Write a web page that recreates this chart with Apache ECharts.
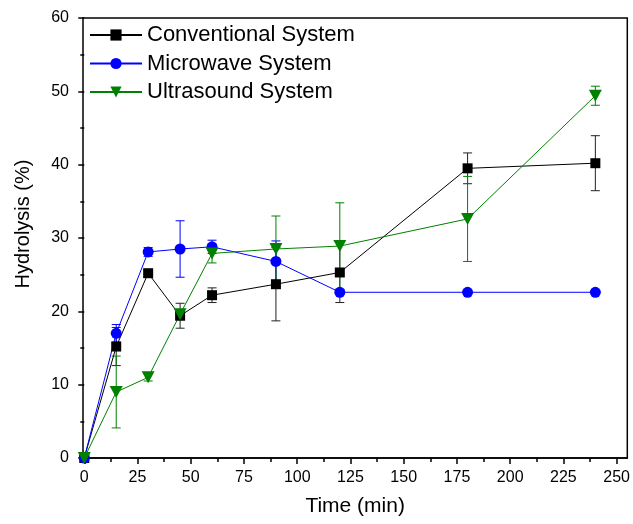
<!DOCTYPE html>
<html>
<head>
<meta charset="utf-8">
<script src="https://cdn.jsdelivr.net/npm/echarts@6/dist/echarts.min.js"></script>
<style>
  html, body { margin: 0; padding: 0; background: #fff; }
  #chart { width: 633px; height: 524px; }
</style>
</head>
<body>
<div id="chart"></div>
<script>
  // time points (min)
  var times = [0, 15, 30, 45, 60, 90, 120, 180, 240];
  // hydrolysis (%) and error bars
  var conventional = [0, 15.2, 25.2, 19.4, 22.2, 23.7, 25.3, 39.5, 40.2];
  var conventionalErr = [0, 2.6, 0.5, 1.7, 1.0, 5.0, 4.1, 2.1, 3.75];
  var microwave = [0, 17.0, 28.1, 28.5, 28.8, 26.8, 22.6, 22.6, 22.6];
  var microwaveErr = [0, 1.2, 0.6, 3.85, 0.9, 2.8, 0.3, 0.2, 0.2];
  var ultrasound = [0, 9.0, 11.0, 19.6, 27.9, 28.5, 28.9, 32.6, 49.4];
  var ultrasoundErr = [0, 4.9, 0.5, 0.3, 1.3, 4.5, 5.9, 5.8, 1.3];
  var xTicks = [0, 25, 50, 75, 100, 125, 150, 175, 200, 225, 250];
  var xMinorTicks = [12.5, 37.5, 62.5, 87.5, 112.5, 137.5, 162.5, 187.5, 212.5, 237.5];

  var font = 'Liberation Sans, Arial, sans-serif';

  function pairs(ys) {
    return times.map(function (t, i) { return [t, ys[i]]; });
  }

  function errData(ys, es) {
    return times.map(function (t, i) { return [t, ys[i] - es[i], ys[i] + es[i]]; });
  }

  function errorSeries(name, ys, es, color) {
    return {
      name: name,
      type: 'custom',
      z: 1,
      silent: true,
      data: errData(ys, es),
      renderItem: function (params, api) {
        var lo = api.coord([api.value(0), api.value(1)]);
        var hi = api.coord([api.value(0), api.value(2)]);
        var w = 4.5;
        var style = { stroke: color, lineWidth: 1 };
        return {
          type: 'group',
          children: [
            { type: 'line', shape: { x1: lo[0], y1: lo[1], x2: hi[0], y2: hi[1] }, style: style },
            { type: 'line', shape: { x1: lo[0] - w, y1: lo[1], x2: lo[0] + w, y2: lo[1] }, style: style },
            { type: 'line', shape: { x1: hi[0] - w, y1: hi[1], x2: hi[0] + w, y2: hi[1] }, style: style }
          ]
        };
      }
    };
  }

  var chart = echarts.init(document.getElementById('chart'));
  chart.setOption({
    animation: false,
    backgroundColor: '#fff',
    grid: {
      left: 83, right: 5, top: 18, bottom: 66,
      show: true, borderColor: '#000', borderWidth: 1.5, backgroundColor: 'transparent'
    },
    legend: {
      data: ['Conventional System', 'Microwave System', 'Ultrasound System'],
      orient: 'vertical',
      left: 84,
      top: 19,
      itemWidth: 52,
      itemHeight: 14,
      itemGap: 6.5,
      textStyle: { fontFamily: font, fontSize: 22, color: '#000', lineHeight: 22 }
    },
    xAxis: [
      {
        type: 'value',
        min: -0.6,
        max: 255,
        position: 'bottom',
        name: 'Time (min)',
        nameLocation: 'middle',
        nameGap: 38,
        nameTextStyle: { fontFamily: font, fontSize: 21, color: '#000' },
        axisLine: { show: true, lineStyle: { color: '#000', width: 1.5 } },
        axisTick: { show: true, customValues: xTicks, length: 6, lineStyle: { color: '#000', width: 1.5 } },
        axisLabel: { customValues: xTicks, fontFamily: font, fontSize: 16, color: '#000', margin: 12 },
        splitLine: { show: false }
      },
      {
        type: 'value',
        min: -0.6,
        max: 255,
        position: 'bottom',
        axisLine: { show: false },
        axisTick: { show: true, customValues: xMinorTicks, length: 4, lineStyle: { color: '#000', width: 1.5 } },
        axisLabel: { show: false },
        splitLine: { show: false }
      }
    ],
    yAxis: {
      type: 'value',
      min: 0,
      max: 60,
      interval: 10,
      name: 'Hydrolysis (%)',
      nameLocation: 'middle',
      nameGap: 50,
      nameTextStyle: { fontFamily: font, fontSize: 20, color: '#000', padding: [0, 0, 0, 28] },
      axisLine: { show: false },
      axisTick: { show: true, length: 6, lineStyle: { color: '#000', width: 1.5 } },
      minorTick: { show: true, splitNumber: 2, length: 4, lineStyle: { color: '#000', width: 1.5 } },
      axisLabel: { fontFamily: font, fontSize: 16, color: '#000', margin: 14 },
      splitLine: { show: false }
    },
    series: [
      errorSeries('convErr', conventional, conventionalErr, '#222'),
      errorSeries('microErr', microwave, microwaveErr, '#0000ff'),
      errorSeries('ultraErr', ultrasound, ultrasoundErr, '#008000'),
      {
        name: 'Conventional System',
        type: 'line',
        z: 2,
        data: pairs(conventional),
        symbol: 'rect',
        symbolSize: 10,
        itemStyle: { color: '#000' },
        lineStyle: { color: '#000', width: 1 }
      },
      {
        name: 'Microwave System',
        type: 'line',
        z: 2,
        data: pairs(microwave),
        symbol: 'circle',
        symbolSize: 11,
        itemStyle: { color: '#0000ff' },
        lineStyle: { color: '#0000ff', width: 1 }
      },
      {
        name: 'Ultrasound System',
        type: 'line',
        z: 2,
        data: pairs(ultrasound),
        symbol: 'triangle',
        symbolRotate: 180,
        symbolSize: [13, 12],
        itemStyle: { color: '#008000' },
        lineStyle: { color: '#008000', width: 1 }
      }
    ]
  });
</script>
</body>
</html>
